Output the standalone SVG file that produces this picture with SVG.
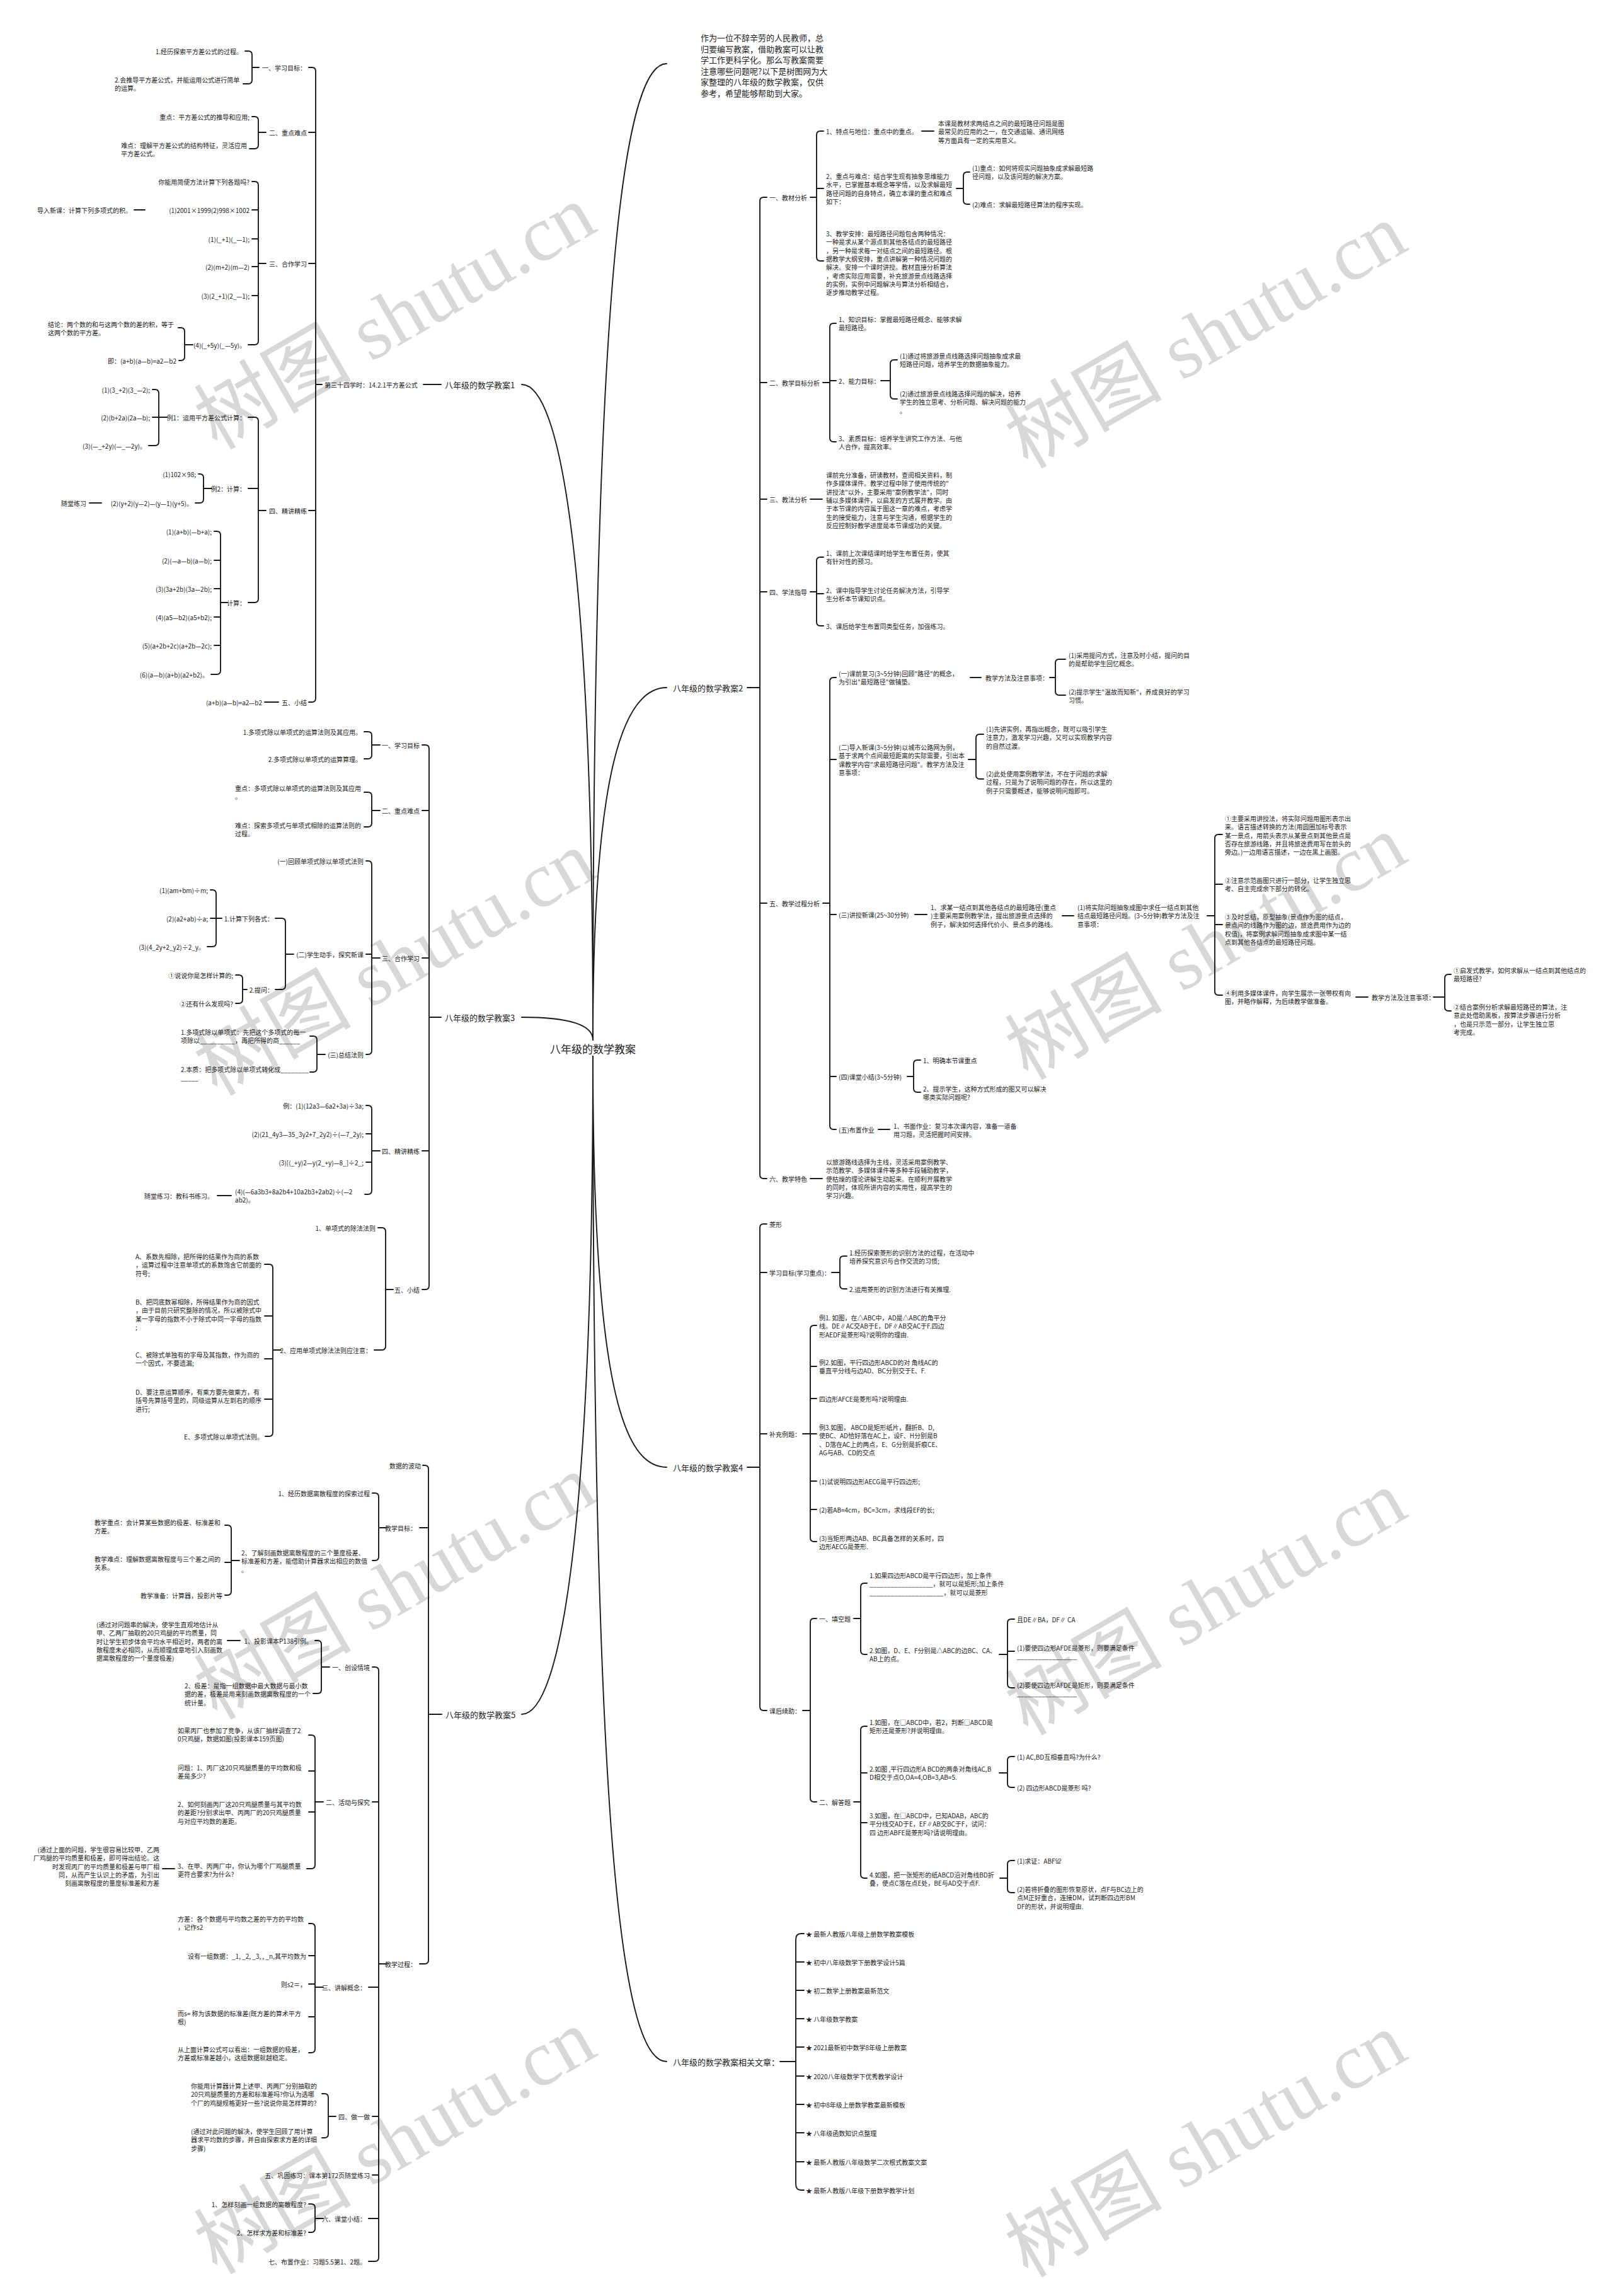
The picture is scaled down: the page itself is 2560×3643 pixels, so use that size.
<svg xmlns="http://www.w3.org/2000/svg" width="2560" height="3643" viewBox="0 0 2560 3643">
<style>
text{font-family:"Noto Sans CJK SC","Noto Sans",sans-serif;font-size:10px;fill:#222222;dominant-baseline:central}
.m{font-size:13px}
.r{font-size:17px}
.i{font-size:13px}
.e{text-anchor:end}
.w{font-family:"Liberation Serif","Noto Sans CJK SC",serif;font-size:125px;fill:#d8d8d8;text-anchor:middle;dominant-baseline:auto}
#connectors path{fill:none;stroke:#1a1a1a;stroke-width:1.9;stroke-linecap:round}
</style>
<rect width="2560" height="3643" fill="#ffffff"/>
<g id="watermark">
<text class="w" transform="translate(648,540) rotate(-30)">树图 shutu.cn</text>
<text class="w" transform="translate(1935,570) rotate(-30)">树图 shutu.cn</text>
<text class="w" transform="translate(648,1565) rotate(-30)">树图 shutu.cn</text>
<text class="w" transform="translate(1935,1540) rotate(-30)">树图 shutu.cn</text>
<text class="w" transform="translate(648,2555) rotate(-30)">树图 shutu.cn</text>
<text class="w" transform="translate(1935,2580) rotate(-30)">树图 shutu.cn</text>
<text class="w" transform="translate(648,3435) rotate(-30)">树图 shutu.cn</text>
<text class="w" transform="translate(1935,3440) rotate(-30)">树图 shutu.cn</text>
</g>
<g id="connectors">
<path d="M 941 1650 C 941 900 890 610 828 610"/>
<path d="M 941 1650 C 941 1625 900 1614 828 1614"/>
<path d="M 941 1676 C 941 2420 890 2720 828 2720"/>
<path d="M 941 1650 C 941 450 990 101 1058 101"/>
<path d="M 941 1650 C 941 1220 990 1091 1058 1091"/>
<path d="M 941 1676 C 941 2200 990 2328 1058 2328"/>
<path d="M 941 1676 C 941 2950 990 3271 1058 3271"/>
<path d="M 672 610 H 700 M 511 610 H 501 M 490 107 H 495 Q 501 107 501 113 V 1108 Q 501 1114 495 1114 H 490 M 490 210 H 501 M 490 418 H 501 M 490 810 H 501"/>
<path d="M 411 107 H 400 M 389 81 H 394 Q 400 81 400 87 V 127 Q 400 133 394 133 H 386"/>
<path d="M 422 210 H 410 M 400 185 H 404 Q 410 185 410 191 V 230 Q 410 236 404 236 H 396"/>
<path d="M 422 418 H 410 M 400 288 H 404 Q 410 288 410 294 V 541 Q 410 547 404 547 H 394 M 400 333 H 410 M 400 379 H 410 M 400 423 H 410 M 400 469 H 410 M 213 333 H 230"/>
<path d="M 306 547 H 293 M 283 520 H 287 Q 293 520 293 526 V 566 Q 293 572 287 572 H 284"/>
<path d="M 422 810 H 410 M 394 662 H 404 Q 410 662 410 668 V 950 Q 410 956 404 956 H 394 M 394 775 H 410"/>
<path d="M 265 662 H 252 M 242 618 H 246 Q 252 618 252 624 V 701 Q 252 707 246 707 H 236 M 242 662 H 252"/>
<path d="M 336 775 H 323 M 315 752 H 317 Q 323 752 323 758 V 792 Q 323 798 317 798 H 310 M 142 798 H 161"/>
<path d="M 361 956 H 350 M 340 843 H 344 Q 350 843 350 849 V 1064 Q 350 1070 344 1070 H 335 M 340 889 H 350 M 340 934 H 350 M 340 979 H 350 M 340 1024 H 350"/>
<path d="M 420 1114 H 442"/>
<path d="M 681 1614 H 700 M 670 1182 H 675 Q 681 1182 681 1188 V 2040 Q 681 2046 675 2046 H 670 M 670 1286 H 681 M 670 1520 H 681 M 670 1826 H 681"/>
<path d="M 603 1182 H 590 M 578 1161 H 584 Q 590 1161 590 1167 V 1198 Q 590 1204 584 1204 H 578"/>
<path d="M 603 1286 H 590 M 578 1257 H 584 Q 590 1257 590 1263 V 1306 Q 590 1312 584 1312 H 578"/>
<path d="M 603 1520 H 590 M 581 1366 H 584 Q 590 1366 590 1372 V 1667 Q 590 1673 584 1673 H 581 M 581 1514 H 590"/>
<path d="M 466 1514 H 453 M 437 1457 H 447 Q 453 1457 453 1463 V 1564 Q 453 1570 447 1570 H 437"/>
<path d="M 352 1457 H 343 M 334 1412 H 337 Q 343 1412 343 1418 V 1496 Q 343 1502 337 1502 H 329 M 334 1457 H 343"/>
<path d="M 392 1570 H 385 M 374 1547 H 379 Q 385 1547 385 1553 V 1586 Q 385 1592 379 1592 H 374"/>
<path d="M 516 1673 H 503 M 492 1644 H 497 Q 503 1644 503 1650 V 1695 Q 503 1701 497 1701 H 492"/>
<path d="M 603 1826 H 590 M 581 1754 H 584 Q 590 1754 590 1760 V 1889 Q 590 1895 584 1895 H 579 M 581 1799 H 590 M 581 1844 H 590 M 345 1897 H 367"/>
<path d="M 624 2046 H 612 M 600 1948 H 606 Q 612 1948 612 1954 V 2136 Q 612 2142 606 2142 H 594"/>
<path d="M 446 2142 H 433 M 420 2006 H 427 Q 433 2006 433 2012 V 2273 Q 433 2279 427 2279 H 421 M 420 2088 H 433 M 420 2156 H 433 M 420 2220 H 433"/>
<path d="M 680 2720 H 701 M 671 2325 H 674 Q 680 2325 680 2331 V 3110 Q 680 3116 674 3116 H 666 M 666 2424 H 680"/>
<path d="M 613 2424 H 601 M 591 2369 H 595 Q 601 2369 601 2375 V 2470 Q 601 2476 595 2476 H 591"/>
<path d="M 380 2476 H 367 M 357 2420 H 361 Q 367 2420 367 2426 V 2525 Q 367 2531 361 2531 H 357 M 357 2479 H 367"/>
<path d="M 613 3116 H 601 M 591 2645 H 595 Q 601 2645 601 2651 V 3582 Q 601 3588 595 3588 H 585 M 591 2859 H 601 M 585 3153 H 601 M 591 3358 H 601 M 591 3451 H 601 M 585 3520 H 601"/>
<path d="M 523 2645 H 510 M 500 2603 H 504 Q 510 2603 510 2609 V 2681 Q 510 2687 504 2687 H 497 M 361 2603 H 381"/>
<path d="M 513 2859 H 500 M 490 2753 H 494 Q 500 2753 500 2759 V 2959 Q 500 2965 494 2965 H 487 M 490 2810 H 500 M 490 2875 H 500 M 258 2965 H 277"/>
<path d="M 513 3153 H 500 M 490 3052 H 494 Q 500 3052 500 3058 V 3251 Q 500 3257 494 3257 H 490 M 490 3103 H 500 M 490 3148 H 500 M 490 3200 H 500"/>
<path d="M 533 3358 H 521 M 511 3322 H 515 Q 521 3322 521 3328 V 3386 Q 521 3392 515 3392 H 511"/>
<path d="M 513 3520 H 500 M 490 3497 H 494 Q 500 3497 500 3503 V 3536 Q 500 3542 494 3542 H 490"/>
<path d="M 1186 1091 H 1206 M 1217 313 H 1212 Q 1206 313 1206 319 V 1864 Q 1206 1870 1212 1870 H 1217 M 1206 607 H 1217 M 1206 792 H 1217 M 1206 939 H 1217 M 1206 1433 H 1217"/>
<path d="M 1286 313 H 1296 M 1307 208 H 1302 Q 1296 208 1296 214 V 408 Q 1296 414 1302 414 H 1307 M 1296 299 H 1307 M 1463 208 H 1482"/>
<path d="M 1518 299 H 1529 M 1539 273 H 1535 Q 1529 273 1529 279 V 318 Q 1529 324 1535 324 H 1539"/>
<path d="M 1306 607 H 1317 M 1327 513 H 1323 Q 1317 513 1317 519 V 695 Q 1317 701 1323 701 H 1327 M 1317 604 H 1327"/>
<path d="M 1398 604 H 1413 M 1424 571 H 1419 Q 1413 571 1413 577 V 627 Q 1413 633 1419 633 H 1424"/>
<path d="M 1286 792 H 1305"/>
<path d="M 1286 939 H 1296 M 1307 884 H 1302 Q 1296 884 1296 890 V 987 Q 1296 993 1302 993 H 1307 M 1296 942 H 1307"/>
<path d="M 1306 1433 H 1317 M 1327 1075 H 1323 Q 1317 1075 1317 1081 V 1786 Q 1317 1792 1323 1792 H 1327 M 1317 1205 H 1327 M 1317 1451 H 1327 M 1317 1708 H 1327"/>
<path d="M 1540 1075 H 1557 M 1666 1075 H 1675 M 1691 1046 H 1681 Q 1675 1046 1675 1052 V 1097 Q 1675 1103 1681 1103 H 1691"/>
<path d="M 1537 1205 H 1549 M 1561 1165 H 1555 Q 1549 1165 1549 1171 V 1230 Q 1549 1236 1555 1236 H 1561"/>
<path d="M 1452 1451 H 1471 M 1686 1453 H 1704 M 1916 1453 H 1928 M 1940 1324 H 1934 Q 1928 1324 1928 1330 V 1573 Q 1928 1579 1934 1579 H 1940 M 1928 1403 H 1940 M 1928 1467 H 1940"/>
<path d="M 2152 1582 H 2171 M 2275 1582 H 2293 M 2303 1546 H 2299 Q 2293 1546 2293 1552 V 1598 Q 2293 1604 2299 1604 H 2303"/>
<path d="M 1440 1708 H 1450 M 1461 1682 H 1456 Q 1450 1682 1450 1688 V 1727 Q 1450 1733 1456 1733 H 1461 M 1394 1792 H 1412"/>
<path d="M 1286 1870 H 1305"/>
<path d="M 1186 2328 H 1206 M 1217 1942 H 1212 Q 1206 1942 1206 1948 V 2708 Q 1206 2714 1212 2714 H 1217 M 1206 2019 H 1217 M 1206 2275 H 1217"/>
<path d="M 1320 2019 H 1333 M 1344 1993 H 1339 Q 1333 1993 1333 1999 V 2039 Q 1333 2045 1339 2045 H 1344"/>
<path d="M 1274 2275 H 1286 M 1296 2103 H 1292 Q 1286 2103 1286 2109 V 2440 Q 1286 2446 1292 2446 H 1296 M 1286 2168 H 1296 M 1286 2219 H 1296 M 1286 2275 H 1296 M 1286 2350 H 1296 M 1286 2395 H 1296"/>
<path d="M 1274 2714 H 1286 M 1296 2568 H 1292 Q 1286 2568 1286 2574 V 2853 Q 1286 2859 1292 2859 H 1296"/>
<path d="M 1355 2568 H 1366 M 1376 2512 H 1372 Q 1366 2512 1366 2518 V 2619 Q 1366 2625 1372 2625 H 1376"/>
<path d="M 1586 2625 H 1599 M 1610 2569 H 1605 Q 1599 2569 1599 2575 V 2672 Q 1599 2678 1605 2678 H 1610 M 1599 2620 H 1610"/>
<path d="M 1355 2859 H 1366 M 1376 2739 H 1372 Q 1366 2739 1366 2745 V 2974 Q 1366 2980 1372 2980 H 1376 M 1366 2813 H 1376 M 1366 2892 H 1376"/>
<path d="M 1586 2813 H 1599 M 1610 2787 H 1605 Q 1599 2787 1599 2793 V 2830 Q 1599 2836 1605 2836 H 1610"/>
<path d="M 1587 2980 H 1599 M 1610 2952 H 1605 Q 1599 2952 1599 2958 V 2997 Q 1599 3003 1605 3003 H 1610"/>
<path d="M 1238 3271 H 1263 M 1276 3068 H 1271 Q 1263 3068 1263 3078 V 3465 Q 1263 3475 1271 3475 H 1276 M 1263 3113 H 1276 M 1263 3158 H 1276 M 1263 3203 H 1276 M 1263 3248 H 1276 M 1263 3294 H 1276 M 1263 3339 H 1276 M 1263 3384 H 1276 M 1263 3430 H 1276"/>
</g>
<g id="root"><text class="r" x="873" y="1663">八年级的数学教案</text></g>
<g id="intro"><text class="i" x="1112" y="59">作为一位不辞辛劳的人民教师，总<tspan x="1112" dy="17.5">归要编写教案，借助教案可以让教</tspan><tspan x="1112" dy="17.5">学工作更科学化。那么写教案需要</tspan><tspan x="1112" dy="17.5">注意哪些问题呢?以下是树图网为大</tspan><tspan x="1112" dy="17.5">家整理的八年级的数学教案，仅供</tspan><tspan x="1112" dy="17.5">参考，希望能够帮助到大家。</tspan></text></g>
<g id="p1"><text class="m" x="706" y="610">八年级的数学教案1</text></g>
<g id="p1-0"><text x="515" y="610">第三十四学时：14.2.1平方差公式</text></g>
<g id="p1-1"><text class="e" x="486" y="107">一、学习目标：</text></g>
<g id="p1-1-1"><text class="e" x="385" y="81">1.经历探索平方差公式的过程。</text></g>
<g id="p1-1-2"><text x="182" y="126">2.会推导平方差公式，并能运用公式进行简单<tspan x="182" dy="13.3">的运算。</tspan></text></g>
<g id="p1-2"><text class="e" x="487" y="210">二、重点难点</text></g>
<g id="p1-2-1"><text class="e" x="396" y="185">重点：平方差公式的推导和应用;</text></g>
<g id="p1-2-2"><text x="192" y="230">难点：理解平方差公式的结构特征，灵活应用<tspan x="192" dy="13.3">平方差公式。</tspan></text></g>
<g id="p1-3"><text class="e" x="487" y="418">三、合作学习</text></g>
<g id="p1-3-1"><text class="e" x="396" y="288">你能用简便方法计算下列各题吗?</text></g>
<g id="p1-3-2"><text class="e" x="396" y="333">(1)2001×1999(2)998×1002</text></g>
<g id="p1-3-2a"><text class="e" x="209" y="333">导入新课：计算下列多项式的积。</text></g>
<g id="p1-3-3"><text class="e" x="396" y="379">(1)(_+1)(_—1);</text></g>
<g id="p1-3-4"><text class="e" x="396" y="423">(2)(m+2)(m—2)</text></g>
<g id="p1-3-5"><text class="e" x="396" y="469">(3)(2_+1)(2_—1);</text></g>
<g id="p1-3-6"><text class="e" x="390" y="547">(4)(_+5y)(_—5y)。</text></g>
<g id="p1-3-6a"><text x="76" y="514">结论：两个数的和与这两个数的差的积，等于<tspan x="76" dy="13.3">这两个数的平方差。</tspan></text></g>
<g id="p1-3-6b"><text class="e" x="280" y="572">即：(a+b)(a—b)=a2—b2</text></g>
<g id="p1-4"><text class="e" x="487" y="810">四、精讲精练</text></g>
<g id="p1-4-1"><text class="e" x="390" y="662">例1：运用平方差公式计算：</text></g>
<g id="p1-4-1a"><text class="e" x="238" y="618">(1)(3_+2)(3_—2);</text></g>
<g id="p1-4-1b"><text class="e" x="238" y="662">(2)(b+2a)(2a—b);</text></g>
<g id="p1-4-1c"><text class="e" x="232" y="707">(3)(—_+2y)(—_—2y)。</text></g>
<g id="p1-4-2"><text class="e" x="390" y="775">例2：计算：</text></g>
<g id="p1-4-2a"><text class="e" x="311" y="752">(1)102×98;</text></g>
<g id="p1-4-2b"><text class="e" x="306" y="798">(2)(y+2)(y—2)—(y—1)(y+5)。</text></g>
<g id="p1-4-2c"><text class="e" x="137" y="798">随堂练习</text></g>
<g id="p1-4-3"><text class="e" x="390" y="956">计算：</text></g>
<g id="p1-4-3a"><text class="e" x="336" y="843">(1)(a+b)(—b+a);</text></g>
<g id="p1-4-3b"><text class="e" x="336" y="889">(2)(—a—b)(a—b);</text></g>
<g id="p1-4-3c"><text class="e" x="336" y="934">(3)(3a+2b)(3a—2b);</text></g>
<g id="p1-4-3d"><text class="e" x="336" y="979">(4)(a5—b2)(a5+b2);</text></g>
<g id="p1-4-3e"><text class="e" x="336" y="1024">(5)(a+2b+2c)(a+2b—2c);</text></g>
<g id="p1-4-3f"><text class="e" x="331" y="1070">(6)(a—b)(a+b)(a2+b2)。</text></g>
<g id="p1-5"><text class="e" x="487" y="1114">五、小结</text></g>
<g id="p1-5-1"><text class="e" x="416" y="1114">(a+b)(a—b)=a2—b2</text></g>
<g id="p3"><text class="m" x="706" y="1614">八年级的数学教案3</text></g>
<g id="p3-1"><text class="e" x="666" y="1182">一、学习目标</text></g>
<g id="p3-1-1"><text class="e" x="574" y="1161">1.多项式除以单项式的运算法则及其应用。</text></g>
<g id="p3-1-2"><text class="e" x="574" y="1204">2.多项式除以单项式的运算算理。</text></g>
<g id="p3-2"><text class="e" x="666" y="1286">二、重点难点</text></g>
<g id="p3-2-1"><text x="373" y="1250">重点：多项式除以单项式的运算法则及其应用<tspan x="373" dy="13.3">。</tspan></text></g>
<g id="p3-2-2"><text x="373" y="1309">难点：探索多项式与单项式相除的运算法则的<tspan x="373" dy="13.3">过程。</tspan></text></g>
<g id="p3-3"><text class="e" x="666" y="1520">三、合作学习</text></g>
<g id="p3-3-1"><text class="e" x="577" y="1366">(一)回顾单项式除以单项式法则</text></g>
<g id="p3-3-2"><text class="e" x="577" y="1514">(二)学生动手，探究新课</text></g>
<g id="p3-3-2a"><text class="e" x="434" y="1457">1.计算下列各式：</text></g>
<g id="p3-3-2a1"><text class="e" x="330" y="1412">(1)(am+bm)÷m;</text></g>
<g id="p3-3-2a2"><text class="e" x="330" y="1457">(2)(a2+ab)÷a;</text></g>
<g id="p3-3-2a3"><text class="e" x="325" y="1502">(3)(4_2y+2_y2)÷2_y。</text></g>
<g id="p3-3-2b"><text class="e" x="434" y="1570">2.提问：</text></g>
<g id="p3-3-2b1"><text class="e" x="370" y="1547">①说说你是怎样计算的;</text></g>
<g id="p3-3-2b2"><text class="e" x="370" y="1592">②还有什么发现吗?</text></g>
<g id="p3-3-3"><text class="e" x="577" y="1673">(三)总结法则</text></g>
<g id="p3-3-3a"><text x="287" y="1637">1.多项式除以单项式：先把这个多项式的每一<tspan x="287" dy="13.3">项除以__________，再把所得的商______</tspan></text></g>
<g id="p3-3-3b"><text x="287" y="1696">2.本质：把多项式除以单项式转化成________<tspan x="287" dy="13.3">_____</tspan></text></g>
<g id="p3-4"><text class="e" x="666" y="1826">四、精讲精练</text></g>
<g id="p3-4-1"><text class="e" x="577" y="1754">例：(1)(12a3—6a2+3a)÷3a;</text></g>
<g id="p3-4-2"><text class="e" x="577" y="1799">(2)(21_4y3—35_3y2+7_2y2)÷(—7_2y);</text></g>
<g id="p3-4-3"><text class="e" x="577" y="1844">(3)[(_+y)2—y(2_+y)—8_]÷2_;</text></g>
<g id="p3-4-4"><text x="373" y="1890">(4)(—6a3b3+8a2b4+10a2b3+2ab2)÷(—2<tspan x="373" dy="13.3">ab2)。</tspan></text></g>
<g id="p3-4-4a"><text class="e" x="339" y="1897">随堂练习：教科书练习。</text></g>
<g id="p3-5"><text class="e" x="666" y="2046">五、小结</text></g>
<g id="p3-5-1"><text class="e" x="596" y="1948">1、单项式的除法法则</text></g>
<g id="p3-5-2"><text class="e" x="590" y="2142">2、应用单项式除法法则应注意：</text></g>
<g id="p3-5-2a"><text x="215" y="1993">A、系数先相除，把所得的结果作为商的系数<tspan x="215" dy="13.3">，运算过程中注意单项式的系数饱含它前面的</tspan><tspan x="215" dy="13.3">符号;</tspan></text></g>
<g id="p3-5-2b"><text x="215" y="2065">B、把同底数幂相除，所得结果作为商的因式<tspan x="215" dy="13.3">，由于目前只研究整除的情况，所以被除式中</tspan><tspan x="215" dy="13.3">某一字母的指数不小于除式中同一字母的指数</tspan><tspan x="215" dy="13.3">;</tspan></text></g>
<g id="p3-5-2c"><text x="215" y="2149">C、被除式单独有的字母及其指数，作为商的<tspan x="215" dy="13.3">一个因式，不要遗漏;</tspan></text></g>
<g id="p3-5-2d"><text x="215" y="2208">D、要注意运算顺序，有乘方要先做乘方，有<tspan x="215" dy="13.3">括号先算括号里的，同级运算从左到右的顺序</tspan><tspan x="215" dy="13.3">进行;</tspan></text></g>
<g id="p3-5-2e"><text class="e" x="418" y="2279">E、多项式除以单项式法则。</text></g>
<g id="p5"><text class="m" x="707" y="2720">八年级的数学教案5</text></g>
<g id="p5-1"><text class="e" x="668" y="2325">数据的波动</text></g>
<g id="p5-2"><text class="e" x="661" y="2424">教学目标：</text></g>
<g id="p5-2-1"><text class="e" x="587" y="2369">1、经历数据离散程度的探索过程</text></g>
<g id="p5-2-2"><text x="383" y="2463">2、了解刻画数据离散程度的三个量度极差、<tspan x="383" dy="13.3">标准差和方差，能借助计算器求出相应的数值</tspan><tspan x="383" dy="13.3">。</tspan></text></g>
<g id="p5-2-2a"><text x="150" y="2415">教学重点：会计算某些数据的极差、标准差和<tspan x="150" dy="13.3">方差。</tspan></text></g>
<g id="p5-2-2b"><text x="150" y="2473">教学难点：理解数据离散程度与三个差之间的<tspan x="150" dy="13.3">关系。</tspan></text></g>
<g id="p5-2-2c"><text class="e" x="353" y="2531">教学准备：计算器，投影片等</text></g>
<g id="p5-3"><text class="e" x="661" y="3116">教学过程：</text></g>
<g id="p5-3-1"><text class="e" x="587" y="2645">一、创设情境</text></g>
<g id="p5-3-1a"><text class="e" x="496" y="2603">1、投影课本P138引例。</text></g>
<g id="p5-3-1a1"><text x="153" y="2577">(通过对问题串的解决，使学生直观地估计从<tspan x="153" dy="13.3">甲、乙两厂抽取的20只鸡腿的平均质量，同</tspan><tspan x="153" dy="13.3">时让学生初步体会平均水平相近时，两者的离</tspan><tspan x="153" dy="13.3">散程度未必相同，从而顺理成章地引入刻画数</tspan><tspan x="153" dy="13.3">据离散程度的一个量度极差)</tspan></text></g>
<g id="p5-3-1b"><text x="293" y="2674">2、极差：是指一组数据中最大数据与最小数<tspan x="293" dy="13.3">据的差，极差是用来刻画数据离散程度的一个</tspan><tspan x="293" dy="13.3">统计量。</tspan></text></g>
<g id="p5-3-2"><text class="e" x="587" y="2859">二、活动与探究</text></g>
<g id="p5-3-2a"><text x="282" y="2745">如果丙厂也参加了竞争，从该厂抽样调查了2<tspan x="282" dy="13.3">0只鸡腿，数据如图(投影课本159页图)</tspan></text></g>
<g id="p5-3-2b"><text x="282" y="2804">问题：1、丙厂这20只鸡腿质量的平均数和极<tspan x="282" dy="13.3">差是多少?</tspan></text></g>
<g id="p5-3-2c"><text x="282" y="2862">2、如何刻画丙厂这20只鸡腿质量与其平均数<tspan x="282" dy="13.3">的差距?分别求出甲、丙两厂的20只鸡腿质量</tspan><tspan x="282" dy="13.3">与对应平均数的差距。</tspan></text></g>
<g id="p5-3-2d"><text x="282" y="2960">3、在甲、丙两厂中，你认为哪个厂鸡腿质量<tspan x="282" dy="13.3">更符合要求?为什么?</tspan></text></g>
<g id="p5-3-2d1"><text class="e" x="253" y="2934">(通过上面的问题，学生很容易比较甲、乙两<tspan class="e" x="253" dy="13.3">厂鸡腿的平均质量和极差，即可得出结论。这</tspan><tspan class="e" x="253" dy="13.3">时发现丙厂的平均质量和极差与甲厂相</tspan><tspan class="e" x="253" dy="13.3">同，从而产生认识上的矛盾，为引出</tspan><tspan class="e" x="253" dy="13.3">刻画离散程度的量度标准差和方差</tspan></text></g>
<g id="p5-3-3"><text class="e" x="581" y="3153">三、讲解概念：</text></g>
<g id="p5-3-3a"><text x="282" y="3044">方差：各个数据与平均数之差的平方的平均数<tspan x="282" dy="13.3">，记作s2</tspan></text></g>
<g id="p5-3-3b"><text class="e" x="486" y="3103">设有一组数据：_1, _2, _3, , _n,其平均数为</text></g>
<g id="p5-3-3c"><text class="e" x="486" y="3148">则s2＝，</text></g>
<g id="p5-3-3d"><text x="282" y="3194">而s= 称为该数据的标准差(既方差的算术平方<tspan x="282" dy="13.3">根)</tspan></text></g>
<g id="p5-3-3e"><text x="282" y="3251">从上面计算公式可以看出：一组数据的极差，<tspan x="282" dy="13.3">方差或标准差越小，这组数据就越稳定。</tspan></text></g>
<g id="p5-3-4"><text class="e" x="587" y="3358">四、做一做</text></g>
<g id="p5-3-4a"><text x="303" y="3309">你能用计算器计算上述甲、丙两厂分别抽取的<tspan x="303" dy="13.3">20只鸡腿质量的方差和标准差吗?你认为选哪</tspan><tspan x="303" dy="13.3">个厂的鸡腿规格更好一些?说说你是怎样算的?</tspan></text></g>
<g id="p5-3-4b"><text x="303" y="3381">(通过对此问题的解决，使学生回顾了用计算<tspan x="303" dy="13.3">器求平均数的步骤，并自由探索求方差的详细</tspan><tspan x="303" dy="13.3">步骤)</tspan></text></g>
<g id="p5-3-5"><text class="e" x="587" y="3451">五、巩固练习：课本第172页随堂练习</text></g>
<g id="p5-3-6"><text class="e" x="581" y="3520">六、课堂小结：</text></g>
<g id="p5-3-6a"><text class="e" x="486" y="3497">1、怎样刻画一组数据的离散程度?</text></g>
<g id="p5-3-6b"><text class="e" x="486" y="3542">2、怎样求方差和标准差?</text></g>
<g id="p5-3-7"><text class="e" x="581" y="3588">七、布置作业：习题5.5第1、2题。</text></g>
<g id="p2"><text class="m" x="1068" y="1091">八年级的数学教案2</text></g>
<g id="p2-1"><text x="1221" y="313">一、教材分析</text></g>
<g id="p2-1-1"><text x="1311" y="208">1、特点与地位：重点中的重点。</text></g>
<g id="p2-1-1a"><text x="1489" y="195">本课是教材求两结点之间的最短路径问题是图<tspan x="1489" dy="13.3">最常见的应用的之一，在交通运输、通讯网络</tspan><tspan x="1489" dy="13.3">等方面具有一定的实用意义。</tspan></text></g>
<g id="p2-1-2"><text x="1311" y="279">2、重点与难点：结合学生现有抽象思维能力<tspan x="1311" dy="13.3">水平，已掌握基本概念等学情，以及求解最短</tspan><tspan x="1311" dy="13.3">路径问题的自身特点，确立本课的重点和难点</tspan><tspan x="1311" dy="13.3">如下：</tspan></text></g>
<g id="p2-1-2a"><text x="1543" y="266">(1)重点：如何将现实问题抽象成求解最短路<tspan x="1543" dy="13.3">径问题，以及该问题的解决方案。</tspan></text></g>
<g id="p2-1-2b"><text x="1543" y="324">(2)难点：求解最短路径算法的程序实现。</text></g>
<g id="p2-1-3"><text x="1311" y="370">3、教学安排：最短路径问题包含两种情况：<tspan x="1311" dy="13.3">一种是求从某个源点到其他各结点的最短路径</tspan><tspan x="1311" dy="13.3">，另一种是求每一对结点之间的最短路径。根</tspan><tspan x="1311" dy="13.3">据教学大纲安排，重点讲解第一种情况问题的</tspan><tspan x="1311" dy="13.3">解决。安排一个课时讲授。教材直接分析算法</tspan><tspan x="1311" dy="13.3">，考虑实际应用需要，补充旅游景点线路选择</tspan><tspan x="1311" dy="13.3">的实例，实例中问题解决与算法分析相结合，</tspan><tspan x="1311" dy="13.3">逐步推动教学过程。</tspan></text></g>
<g id="p2-2"><text x="1221" y="607">二、教学目标分析</text></g>
<g id="p2-2-1"><text x="1331" y="506">1、知识目标：掌握最短路径概念、能够求解<tspan x="1331" dy="13.3">最短路径。</tspan></text></g>
<g id="p2-2-2"><text x="1331" y="604">2、能力目标：</text></g>
<g id="p2-2-2a"><text x="1428" y="564">(1)通过将旅游景点线路选择问题抽象成求最<tspan x="1428" dy="13.3">短路径问题，培养学生的数据抽象能力。</tspan></text></g>
<g id="p2-2-2b"><text x="1428" y="624">(2)通过旅游景点线路选择问题的解决，培养<tspan x="1428" dy="13.3">学生的独立思考、分析问题、解决问题的能力</tspan><tspan x="1428" dy="13.3">。</tspan></text></g>
<g id="p2-2-3"><text x="1331" y="695">3、素质目标：培养学生讲究工作方法、与他<tspan x="1331" dy="13.3">人合作，提高效率。</tspan></text></g>
<g id="p2-3"><text x="1221" y="792">三、教法分析</text></g>
<g id="p2-3-1"><text x="1311" y="753">课前充分准备，研读教材，查阅相关资料，制<tspan x="1311" dy="13.3">作多媒体课件。教学过程中除了使用传统的"</tspan><tspan x="1311" dy="13.3">讲授法"以外，主要采用"案例教学法"，同时</tspan><tspan x="1311" dy="13.3">辅以多媒体课件，以启发的方式展开教学。由</tspan><tspan x="1311" dy="13.3">于本节课的内容属于图这一章的难点，考虑学</tspan><tspan x="1311" dy="13.3">生的接受能力，注意与学生沟通，根据学生的</tspan><tspan x="1311" dy="13.3">反应控制好教学进度是本节课成功的关键。</tspan></text></g>
<g id="p2-4"><text x="1221" y="939">四、学法指导</text></g>
<g id="p2-4-1"><text x="1311" y="877">1、课前上次课结课时给学生布置任务，使其<tspan x="1311" dy="13.3">有针对性的预习。</tspan></text></g>
<g id="p2-4-2"><text x="1311" y="936">2、课中指导学生讨论任务解决方法，引导学<tspan x="1311" dy="13.3">生分析本节课知识点。</tspan></text></g>
<g id="p2-4-3"><text x="1311" y="993">3、课后给学生布置同类型任务，加强练习。</text></g>
<g id="p2-5"><text x="1221" y="1433">五、教学过程分析</text></g>
<g id="p2-5-1"><text x="1331" y="1068">(一)课前复习(3~5分钟)回顾"路径"的概念，<tspan x="1331" dy="13.3">为引出"最短路径"做铺垫。</tspan></text></g>
<g id="p2-5-1a"><text x="1564" y="1075">教学方法及注意事项：</text></g>
<g id="p2-5-1a1"><text x="1696" y="1039">(1)采用提问方式，注意及时小结，提问的目<tspan x="1696" dy="13.3">的是帮助学生回忆概念。</tspan></text></g>
<g id="p2-5-1a2"><text x="1696" y="1097">(2)提示学生"温故而知新"，养成良好的学习<tspan x="1696" dy="13.3">习惯。</tspan></text></g>
<g id="p2-5-2"><text x="1331" y="1185">(二)导入新课(3~5分钟)以城市公路网为例，<tspan x="1331" dy="13.3">基于求两个点间最短距离的实际需要，引出本</tspan><tspan x="1331" dy="13.3">课教学内容"求最短路径问题"。教学方法及注</tspan><tspan x="1331" dy="13.3">意事项：</tspan></text></g>
<g id="p2-5-2a"><text x="1565" y="1156">(1)先讲实例，再指出概念，既可以吸引学生<tspan x="1565" dy="13.3">注意力，激发学习兴趣，又可以实现教学内容</tspan><tspan x="1565" dy="13.3">的自然过渡。</tspan></text></g>
<g id="p2-5-2b"><text x="1565" y="1227">(2)此处使用案例教学法，不在于问题的求解<tspan x="1565" dy="13.3">过程，只是为了说明问题的存在，所以这里的</tspan><tspan x="1565" dy="13.3">例子只需要概述，能够说明问题即可。</tspan></text></g>
<g id="p2-5-3"><text x="1331" y="1451">(三)讲授新课(25~30分钟)</text></g>
<g id="p2-5-3a"><text x="1477" y="1439">1、求某一结点到其他各结点的最短路径(重点<tspan x="1477" dy="13.3">)主要采用案例教学法，提出旅游景点选择的</tspan><tspan x="1477" dy="13.3">例子，解决如何选择代价小、景点多的路线。</tspan></text></g>
<g id="p2-5-3b"><text x="1710" y="1439">(1)将实际问题抽象成图中求任一结点到其他<tspan x="1710" dy="13.3">结点最短路径问题。(3~5分钟)教学方法及注</tspan><tspan x="1710" dy="13.3">意事项：</tspan></text></g>
<g id="p2-5-3b1"><text x="1944" y="1298">①主要采用讲授法，将实际问题用图形表示出<tspan x="1944" dy="13.3">来。语言描述转换的方法(用圆圈加标号表示</tspan><tspan x="1944" dy="13.3">某一景点，用箭头表示从某景点到其他景点是</tspan><tspan x="1944" dy="13.3">否存在旅游线路，并且将旅途费用写在前头的</tspan><tspan x="1944" dy="13.3">旁边。)一边用语言描述，一边在黑上画图。</tspan></text></g>
<g id="p2-5-3b2"><text x="1944" y="1396">②注意示范画图只进行一部分，让学生独立思<tspan x="1944" dy="13.3">考、自主完成余下部分的转化。</tspan></text></g>
<g id="p2-5-3b3"><text x="1944" y="1454">③及时总结，原型抽象(景点作为图的结点，<tspan x="1944" dy="13.3">景点间的线路作为图的边，旅途费用作为边的</tspan><tspan x="1944" dy="13.3">权值)，将案例求解问题抽象成求图中某一结</tspan><tspan x="1944" dy="13.3">点到其他各结点的最短路径问题。</tspan></text></g>
<g id="p2-5-3b4"><text x="1944" y="1575">④利用多媒体课件，向学生展示一张带权有向<tspan x="1944" dy="13.3">图，并略作解释，为后续教学做准备。</tspan></text></g>
<g id="p2-5-3b4a"><text x="2177" y="1582">教学方法及注意事项：</text></g>
<g id="p2-5-3b4a1"><text x="2307" y="1539">①启发式教学，如何求解从一结点到其他结点的<tspan x="2307" dy="13.3">最短路径?</tspan></text></g>
<g id="p2-5-3b4a2"><text x="2307" y="1597">②结合案例分析求解最短路径的算法，注<tspan x="2307" dy="13.3">意此处借助黑板，按算法步骤进行分析</tspan><tspan x="2307" dy="13.3">，也是只示范一部分，让学生独立思</tspan><tspan x="2307" dy="13.3">考完成。</tspan></text></g>
<g id="p2-5-4"><text x="1331" y="1708">(四)课堂小结(3~5分钟)</text></g>
<g id="p2-5-4a"><text x="1465" y="1682">1、明确本节课重点</text></g>
<g id="p2-5-4b"><text x="1465" y="1727">2、提示学生，这种方式形成的图又可以解决<tspan x="1465" dy="13.3">哪类实际问题呢?</tspan></text></g>
<g id="p2-5-5"><text x="1331" y="1792">(五)布置作业</text></g>
<g id="p2-5-5a"><text x="1418" y="1786">1、书面作业：复习本次课内容，准备一道备<tspan x="1418" dy="13.3">用习题，灵活把握时间安排。</tspan></text></g>
<g id="p2-6"><text x="1221" y="1870">六、教学特色</text></g>
<g id="p2-6-1"><text x="1311" y="1843">以旅游路线选择为主线，灵活采用案例教学、<tspan x="1311" dy="13.3">示范教学、多媒体课件等多种手段辅助教学，</tspan><tspan x="1311" dy="13.3">使枯燥的理论讲解生动起来。在顺利开展教学</tspan><tspan x="1311" dy="13.3">的同时，体现所讲内容的实用性，提高学生的</tspan><tspan x="1311" dy="13.3">学习兴趣。</tspan></text></g>
<g id="p4"><text class="m" x="1068" y="2328">八年级的数学教案4</text></g>
<g id="p4-1"><text x="1221" y="1942">菱形</text></g>
<g id="p4-2"><text x="1221" y="2019">学习目标(学习重点)：</text></g>
<g id="p4-2-1"><text x="1348" y="1987">1.经历探索菱形的识别方法的过程，在活动中<tspan x="1348" dy="13.3">培养探究意识与合作交流的习惯;</tspan></text></g>
<g id="p4-2-2"><text x="1348" y="2045">2.运用菱形的识别方法进行有关推理.</text></g>
<g id="p4-3"><text x="1221" y="2275">补充例题：</text></g>
<g id="p4-3-1"><text x="1300" y="2090">例1. 如图，在△ABC中，AD是△ABC的角平分<tspan x="1300" dy="13.3">线。DE∥AC交AB于E，DF∥AB交AC于F.四边</tspan><tspan x="1300" dy="13.3">形AEDF是菱形吗?说明你的理由.</tspan></text></g>
<g id="p4-3-2"><text x="1300" y="2161">例2.如图，平行四边形ABCD的对 角线AC的<tspan x="1300" dy="13.3">垂直平分线与边AD、BC分别交于E、F.</tspan></text></g>
<g id="p4-3-3"><text x="1300" y="2219">四边形AFCE是菱形吗?说明理由.</text></g>
<g id="p4-3-4"><text x="1300" y="2264">例3.如图，  ABCD是矩形纸片，翻折B、D,<tspan x="1300" dy="13.3">使BC、AD恰好落在AC上，设F、H分别是B</tspan><tspan x="1300" dy="13.3">、D落在AC上的两点，E、G分别是折痕CE、</tspan><tspan x="1300" dy="13.3">AG与AB、CD的交点</tspan></text></g>
<g id="p4-3-5"><text x="1300" y="2350">(1)试说明四边形AECG是平行四边形;</text></g>
<g id="p4-3-6"><text x="1300" y="2395">(2)若AB=4cm，BC=3cm，求线段EF的长;</text></g>
<g id="p4-3-7"><text x="1300" y="2440">(3)当矩形两边AB、BC具备怎样的关系时，四<tspan x="1300" dy="13.3">边形AECG是菱形.</tspan></text></g>
<g id="p4-4"><text x="1221" y="2714">课后续助：</text></g>
<g id="p4-4-1"><text x="1300" y="2568">一、填空题</text></g>
<g id="p4-4-1a"><text x="1380" y="2499">1.如果四边形ABCD是平行四边形，加上条件<tspan x="1380" dy="13.3">__________________，就可以是矩形;加上条件</tspan><tspan x="1380" dy="13.3">_____________________，就可以是菱形</tspan></text></g>
<g id="p4-4-1b"><text x="1380" y="2618">2.如图，D、E、F分别是△ABC的边BC、CA、<tspan x="1380" dy="13.3">AB上的点。</tspan></text></g>
<g id="p4-4-1b1"><text x="1614" y="2569">且DE∥BA，DF∥ CA</text></g>
<g id="p4-4-1b2"><text x="1614" y="2614">(1)要使四边形AFDE是菱形，则要满足条件<tspan x="1614" dy="13.3">_________________</tspan></text></g>
<g id="p4-4-1b3"><text x="1614" y="2673">(2)要使四边形AFDE是矩形，则要满足条件<tspan x="1614" dy="13.3">_________________</tspan></text></g>
<g id="p4-4-2"><text x="1300" y="2859">二、解答题</text></g>
<g id="p4-4-2a"><text x="1380" y="2732">1.如图，在□ABCD中，若2，判断□ABCD是<tspan x="1380" dy="13.3">矩形还是菱形?并说明理由。</tspan></text></g>
<g id="p4-4-2b"><text x="1380" y="2806">2.如图 ,平行四边形A BCD的两条对角线AC,B<tspan x="1380" dy="13.3">D相交于点O,OA=4,OB=3,AB=5.</tspan></text></g>
<g id="p4-4-2b1"><text x="1614" y="2787">(1) AC,BD互相垂直吗?为什么?</text></g>
<g id="p4-4-2b2"><text x="1614" y="2836">(2) 四边形ABCD是菱形 吗?</text></g>
<g id="p4-4-2c"><text x="1380" y="2880">3.如图，在□ABCD中，已知ADAB，ABC的<tspan x="1380" dy="13.3">平分线交AD于E，EF∥AB交BC于F，试问：</tspan><tspan x="1380" dy="13.3">四 边形ABFE是菱形吗?请说明理由。</tspan></text></g>
<g id="p4-4-2d"><text x="1380" y="2974">4.如图，把一张矩形的纸ABCD沿对角线BD折<tspan x="1380" dy="13.3">叠，使点C落在点E处，BE与AD交于点F.</tspan></text></g>
<g id="p4-4-2d1"><text x="1614" y="2952">(1)求证：ABF≌</text></g>
<g id="p4-4-2d2"><text x="1614" y="2997">(2)若将折叠的图形恢复原状，点F与BC边上的<tspan x="1614" dy="13.3">点M正好重合，连接DM，试判断四边形BM</tspan><tspan x="1614" dy="13.3">DF的形状，并说明理由.</tspan></text></g>
<g id="p6"><text class="m" x="1068" y="3271">八年级的数学教案相关文章：</text></g>
<g id="p6-1"><text x="1279" y="3068">★ 最新人教版八年级上册数学教案模板</text></g>
<g id="p6-2"><text x="1279" y="3113">★ 初中八年级数学下册教学设计5篇</text></g>
<g id="p6-3"><text x="1279" y="3158">★ 初二数学上册教案最新范文</text></g>
<g id="p6-4"><text x="1279" y="3203">★ 八年级数学教案</text></g>
<g id="p6-5"><text x="1279" y="3248">★ 2021最新初中数学8年级上册教案</text></g>
<g id="p6-6"><text x="1279" y="3294">★ 2020八年级数学下优秀教学设计</text></g>
<g id="p6-7"><text x="1279" y="3339">★ 初中8年级上册数学教案最新模板</text></g>
<g id="p6-8"><text x="1279" y="3384">★ 八年级函数知识点整理</text></g>
<g id="p6-9"><text x="1279" y="3430">★ 最新人教版八年级数学二次根式教案文案</text></g>
<g id="p6-10"><text x="1279" y="3475">★ 最新人教版八年级下册数学教学计划</text></g>
</svg>
